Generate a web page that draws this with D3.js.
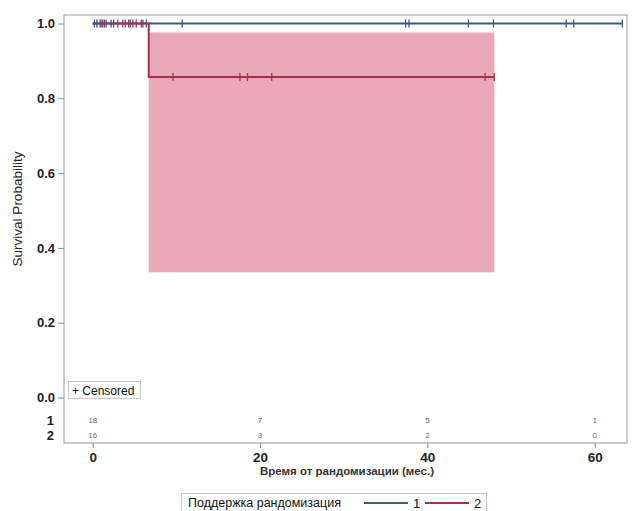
<!DOCTYPE html>
<html>
<head>
<meta charset="utf-8">
<script src="https://cdn.jsdelivr.net/npm/d3@7"></script>
<style>
  html, body { margin: 0; padding: 0; background: #fff; }
  svg { display: block; font-family: "Liberation Sans", Arial, sans-serif; }
</style>
</head>
<body>
<svg id="chart" width="634" height="511"></svg>
<script>
// Kaplan–Meier estimates per randomisation group
const groups = ["1", "2"];
const group1Steps = [[0, 1.0], [63.3, 1.0]];
const group2Steps = [[0, 1.0], [6.7, 1.0], [6.7, 0.857], [48.0, 0.857]];
// Pointwise confidence band for group 2 after its event
const group2Band = [[6.7, 0.976, 0.335], [48.0, 0.976, 0.335]];
// Censoring times
const group1Censored = [0.2, 0.5, 0.9, 1.2, 1.6, 2.2, 3.0, 4.5, 5.8, 6.4, 10.7, 37.4, 37.8, 44.9, 47.9, 56.6, 57.5, 63.3];
const group2CensoredAt1 = [1.0, 1.4, 2.5, 3.6, 3.9, 4.3, 4.8, 5.2, 6.0];
const group2CensoredLater = [9.6, 17.6, 18.5, 21.4, 46.9, 48.0];
// Number at risk table
const riskTimes = [0, 20, 40, 60];
const riskGroup1 = [18, 7, 5, 1];
const riskGroup2 = [16, 3, 2, 0];
const xTicks = [0, 20, 40, 60];
const yTicks = [0, 0.2, 0.4, 0.6, 0.8, 1.0];

const colors = { "1": "#3d5a8a", "2": "#a3334b" };
const legendColors = { "1": "#2f6b55", "2": "#a8304a" };

const svg = d3.select("#chart");
const frame = { left: 64, right: 627, top: 15, bottom: 443 };

const x = d3.scaleLinear().domain([0, 60]).range([92.7, 594.7]);
const y = d3.scaleLinear().domain([0, 1]).range([397.5, 23.5]);

// confidence band
const area = d3.area().x(d => x(d[0])).y0(d => y(d[2])).y1(d => y(d[1]));
svg.append("path").datum(group2Band)
  .attr("d", area).attr("fill", "#e59aab").attr("opacity", 0.85);

// frame
svg.append("rect")
  .attr("x", frame.left).attr("y", frame.top)
  .attr("width", frame.right - frame.left).attr("height", frame.bottom - frame.top)
  .attr("fill", "none").attr("stroke", "#9a9a9a").attr("stroke-width", 1);

// survival curves
const line = d3.line().x(d => x(d[0])).y(d => y(d[1]));
svg.append("path").datum(group1Steps).attr("d", line)
  .attr("fill", "none").attr("stroke", colors["1"]).attr("stroke-width", 2);
svg.append("path").datum(group2Steps).attr("d", line)
  .attr("fill", "none").attr("stroke", colors["2"]).attr("stroke-width", 2);

// censor marks
function censor(times, level, color) {
  svg.append("g").selectAll("path").data(times).join("path")
    .attr("d", t => `M${x(t)},${y(level) - 4}V${y(level) + 4}`)
    .attr("stroke", color).attr("stroke-width", 1.3);
}
censor(group1Censored, 1.0, colors["1"]);
censor(group2CensoredAt1, 1.0, colors["2"]);
censor(group2CensoredLater, 0.857, colors["2"]);

// y axis
const yAxis = svg.append("g").attr("transform", `translate(${frame.left},0)`)
  .call(d3.axisLeft(y).tickValues(yTicks).tickFormat(d3.format(".1f")).tickSize(6).tickPadding(3));
yAxis.select(".domain").remove();
yAxis.selectAll("line").attr("stroke", "#8a8a8a");
yAxis.selectAll("text").attr("font-size", 13).attr("font-weight", "bold")
  .attr("fill", "#222").style("font-family", "Liberation Sans, Arial, sans-serif");

// x axis
const xAxis = svg.append("g").attr("transform", `translate(0,${frame.bottom})`)
  .call(d3.axisBottom(x).tickValues(xTicks).tickFormat(d3.format("d")).tickSize(5).tickPadding(4));
xAxis.select(".domain").remove();
xAxis.selectAll("line").attr("stroke", "#8a8a8a");
xAxis.selectAll("text").attr("font-size", 13.5).attr("font-weight", "bold")
  .attr("fill", "#222").style("font-family", "Liberation Sans, Arial, sans-serif");

// axis titles
svg.append("text").attr("x", 347).attr("y", 475)
  .attr("text-anchor", "middle").attr("font-size", 11.5).attr("font-weight", "bold")
  .attr("fill", "#333").text("Время от рандомизации (мес.)");
svg.append("text").attr("transform", "translate(22,209) rotate(-90)")
  .attr("text-anchor", "middle").attr("font-size", 13.5).attr("fill", "#222")
  .text("Survival Probability");

// number at risk table
[[riskGroup1, 425, "1"], [riskGroup2, 440, "2"]].forEach(([vals, yy, g]) => {
  svg.append("text").attr("x", 54).attr("y", yy).attr("text-anchor", "end")
    .attr("font-size", 13).attr("font-weight", "bold").attr("fill", "#222").text(g);
  svg.append("g").selectAll("text").data(vals).join("text")
    .attr("x", (d, i) => x(riskTimes[i])).attr("y", yy - 2)
    .attr("text-anchor", "middle").attr("font-size", 8).attr("fill", "#666")
    .text(d => d);
});

// censored inset legend
svg.append("rect").attr("x", 68.5).attr("y", 381.5).attr("width", 72).attr("height", 17)
  .attr("fill", "#fff").attr("stroke", "#c8c8c8");
svg.append("text").attr("x", 72).attr("y", 394.5).attr("font-size", 12)
  .attr("fill", "#111").text("+ Censored");

// group legend
const leg = svg.append("g");
leg.append("rect").attr("x", 181.5).attr("y", 493.5).attr("width", 305).attr("height", 20)
  .attr("fill", "#fff").attr("stroke", "#c8c8c8");
leg.append("text").attr("x", 188).attr("y", 507).attr("font-size", 12.5)
  .attr("fill", "#111").text("Поддержка рандомизация");
const legX = [364, 425];
groups.forEach((g, i) => {
  leg.append("line").attr("x1", legX[i]).attr("x2", legX[i] + 44)
    .attr("y1", 503).attr("y2", 503).attr("stroke", legendColors[g]).attr("stroke-width", 2);
  leg.append("text").attr("x", legX[i] + 49).attr("y", 508).attr("font-size", 13)
    .attr("fill", "#111").text(g);
});
</script>
</body>
</html>
